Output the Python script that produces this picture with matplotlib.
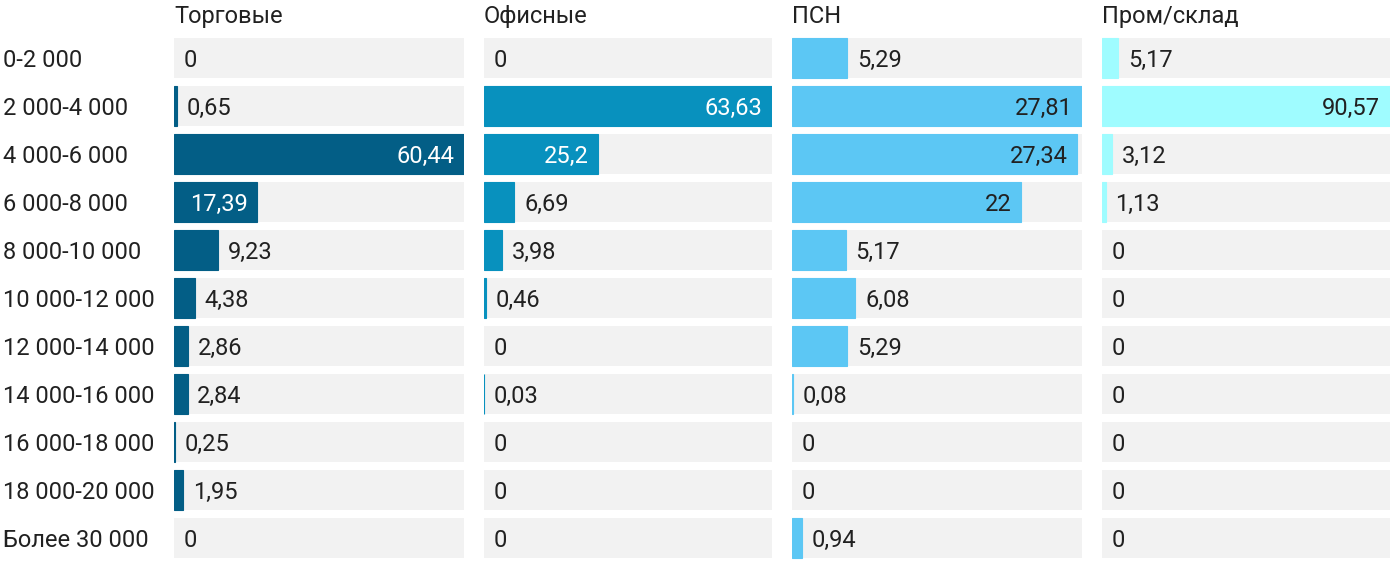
import matplotlib.pyplot as plt

plt.rcParams['font.family'] = ['Roboto', 'DejaVu Sans']

categories = ["0-2 000", "2 000-4 000", "4 000-6 000", "6 000-8 000", "8 000-10 000",
              "10 000-12 000", "12 000-14 000", "14 000-16 000", "16 000-18 000",
              "18 000-20 000", "Более 30 000"]
titles = ["Торговые", "Офисные", "ПСН", "Пром/склад"]
torg = [0, 0.65, 60.44, 17.39, 9.23, 4.38, 2.86, 2.84, 0.25, 1.95, 0]
ofis = [0, 63.63, 25.2, 6.69, 3.98, 0.46, 0, 0.03, 0, 0, 0]
psn = [5.29, 27.81, 27.34, 22, 5.17, 6.08, 5.29, 0.08, 0, 0, 0.94]
prom = [5.17, 90.57, 3.12, 1.13, 0, 0, 0, 0, 0, 0, 0]
series = [torg, ofis, psn, prom]
colors = ["#035e86", "#0891be", "#5cc7f4", "#9ffcff"]
inner_text = ["white", "white", "#212121", "#212121"]

W, H = 1400, 574
fig = plt.figure(figsize=(W / 100, H / 100), dpi=100)
panels_x = [(174, 464), (484, 772), (792, 1082), (1102, 1390)]
n = len(categories)
top = 34
bottom = top + 48 * n
fs = 17

for k, (x0, x1) in enumerate(panels_x):
    ax = fig.add_axes([x0 / W, 1 - bottom / H, (x1 - x0) / W, (bottom - top) / H])
    vals = series[k]
    vmax = max(vals)
    ys = list(range(n))
    ax.barh(ys, [vmax] * n, height=40 / 48, color="#f2f2f2", linewidth=0)
    for i, v in enumerate(vals):
        if v > 0:
            ax.barh(i, v, height=40 / 48, color=colors[k], edgecolor=colors[k], linewidth=0.8)
        txt = str(v).replace(".", ",")
        if txt.endswith(",0"):
            txt = txt[:-2]
        if v / vmax > 0.25:
            ax.annotate(txt, (v, i), xytext=(-7, 0), textcoords="offset points",
                        ha="right", va="center_baseline", fontsize=fs, color=inner_text[k])
        else:
            ax.annotate(txt, (v, i), xytext=(7, 0), textcoords="offset points",
                        ha="left", va="center_baseline", fontsize=fs, color="#212121")
    ax.set_xlim(0, vmax)
    ax.set_ylim(n - 0.5, -0.5)
    ax.axis("off")
    fig.text(x0 / W, 1 - 14 / H, titles[k], fontsize=fs, color="#212121",
             ha="left", va="center_baseline")

for i, c in enumerate(categories):
    fig.text(3 / W, 1 - (58 + 48 * i) / H, c, fontsize=fs, color="#212121",
             ha="left", va="center_baseline")

fig.savefig("out.png", dpi=100)
